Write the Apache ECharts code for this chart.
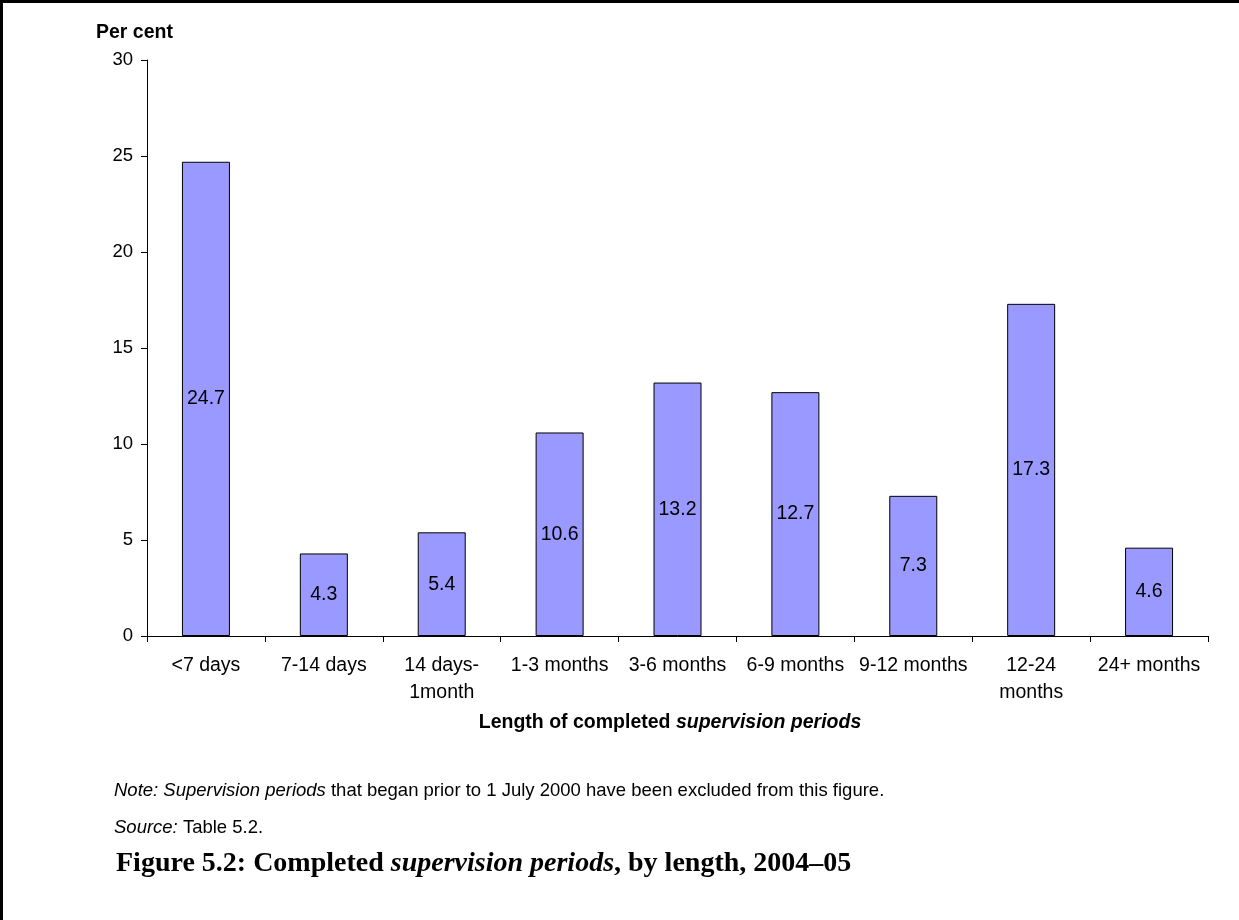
<!DOCTYPE html>
<html>
<head>
<meta charset="utf-8">
<script src="https://cdn.jsdelivr.net/npm/echarts@6/dist/echarts.min.js"></script>
<style>
html,body{margin:0;padding:0;background:#fff;}
#chart{width:1239px;height:920px;}
</style>
</head>
<body>
<div id="chart"></div>
<script>
const categories = ['<7 days', '7-14 days', '14 days-\n1month', '1-3 months', '3-6 months', '6-9 months', '9-12 months', '12-24\nmonths', '24+ months'];
const values = [24.7, 4.3, 5.4, 10.6, 13.2, 12.7, 7.3, 17.3, 4.6];
const yTicks = [0, 5, 10, 15, 20, 25, 30];

const chart = echarts.init(document.getElementById('chart'), null, {renderer: 'canvas'});
const sans = 'Liberation Sans, Arial, sans-serif';
const serif = 'Liberation Serif, Times New Roman, serif';

chart.setOption({
  animation: false,
  backgroundColor: '#ffffff',
  grid: {left: 147, right: 31, top: 60, bottom: 284, containLabel: false},
  xAxis: {
    type: 'category',
    data: categories,
    axisLine: {lineStyle: {color: '#000', width: 1}},
    axisTick: {show: true, length: 6, lineStyle: {color: '#000'}},
    axisLabel: {color: '#000', fontFamily: sans, fontSize: 19.5, margin: 16, lineHeight: 27, interval: 0}
  },
  yAxis: {
    type: 'value',
    min: yTicks[0],
    max: yTicks[yTicks.length - 1],
    interval: 5,
    splitLine: {show: false},
    axisLine: {show: true, lineStyle: {color: '#000', width: 1}},
    axisTick: {show: true, length: 6, lineStyle: {color: '#000'}},
    axisLabel: {color: '#000', fontFamily: sans, fontSize: 18.5, margin: 14}
  },
  series: [{
    type: 'bar',
    data: values,
    barWidth: 48,
    itemStyle: {color: '#9999FF', borderColor: '#000', borderWidth: 1},
    label: {show: true, position: 'inside', color: '#000', fontFamily: sans, fontSize: 19.5,
      formatter: p => p.value.toFixed(1)}
  }],
  graphic: [
    {type: 'rect', shape: {x: 0, y: 0, width: 3, height: 920}, style: {fill: '#000'}, silent: true},
    {type: 'rect', shape: {x: 0, y: 0, width: 1239, height: 3}, style: {fill: '#000'}, silent: true},
    {type: 'text', x: 96, y: 33, style: {text: 'Per cent', font: 'bold 19.5px ' + sans, fill: '#000', verticalAlign: 'middle'}},
    {type: 'text', x: 670, y: 723, style: {
      text: '{b|Length of completed }{bi|supervision periods}',
      align: 'center', verticalAlign: 'middle',
      rich: {
        b: {font: 'bold 19.5px ' + sans, fill: '#000'},
        bi: {font: 'italic bold 19.5px ' + sans, fill: '#000'}
      }
    }},
    {type: 'text', x: 114, y: 791, style: {
      text: '{i|Note: Supervision periods}{r| that began prior to 1 July 2000 have been excluded from this figure.}',
      verticalAlign: 'middle',
      rich: {
        i: {font: 'italic 18.5px ' + sans, fill: '#000'},
        r: {font: '18.5px ' + sans, fill: '#000'}
      }
    }},
    {type: 'text', x: 114, y: 828, style: {
      text: '{i|Source:}{r| Table 5.2.}',
      verticalAlign: 'middle',
      rich: {
        i: {font: 'italic 18.5px ' + sans, fill: '#000'},
        r: {font: '18.5px ' + sans, fill: '#000'}
      }
    }},
    {type: 'text', x: 116, y: 864, style: {
      text: '{b|Figure 5.2: Completed }{bi|supervision periods}{b|, by length, 2004–05}',
      verticalAlign: 'middle',
      rich: {
        b: {font: 'bold 28px ' + serif, fill: '#000'},
        bi: {font: 'italic bold 28px ' + serif, fill: '#000'}
      }
    }}
  ]
});
</script>
</body>
</html>
